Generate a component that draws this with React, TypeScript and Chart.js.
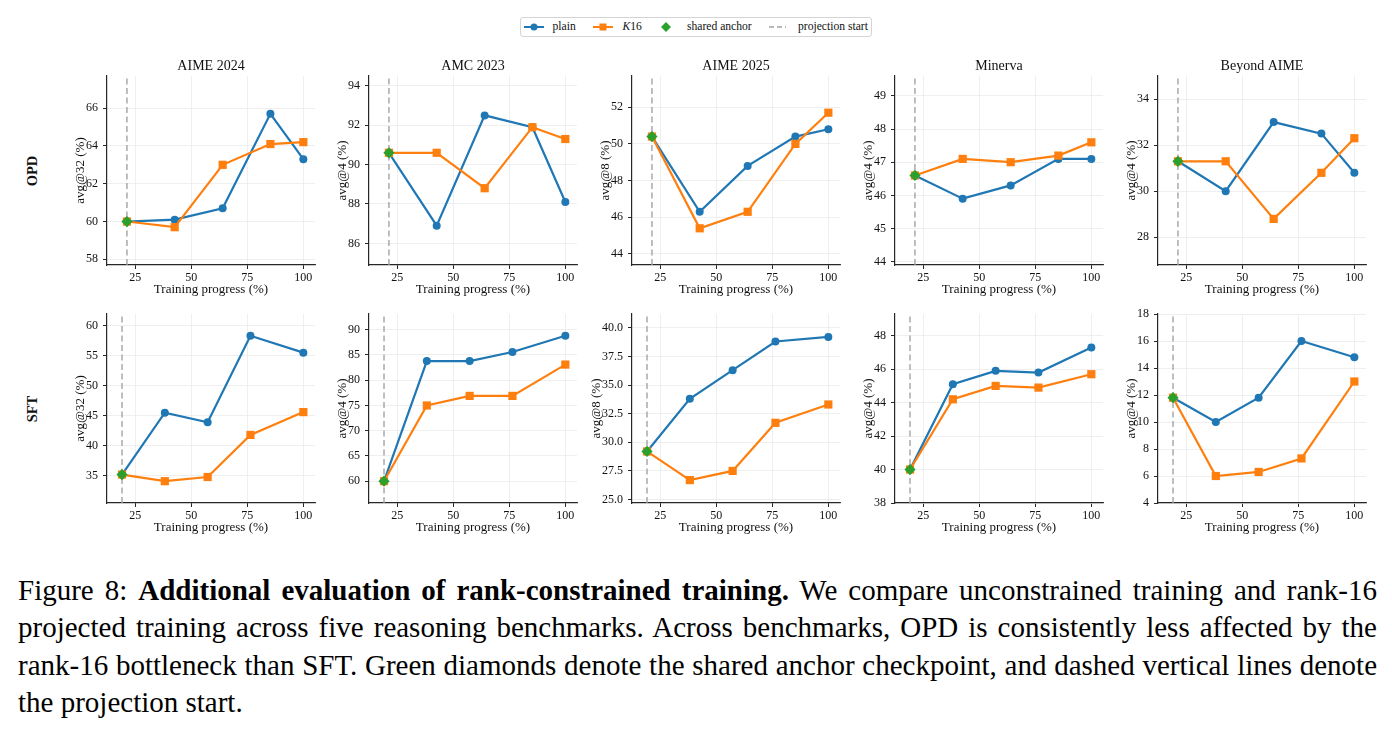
import React, { useEffect, useRef } from "react";
import { Chart, registerables } from "chart.js";

Chart.register(...registerables);

const SERIF = '"Liberation Serif", "Times New Roman", Times, serif';
const BLUE = "#1f77b4";
const ORANGE = "#ff7f0e";
const GREEN = "#2ca02c";
const DASH_GREY = "#a3a3a3";
const GRID = "#ebebeb";
const AXIS = "#262626";
const INK = "#111111";

// Benchmarks (columns) and training methods (rows)
const benchmarks = ["AIME 2024", "AMC 2023", "AIME 2025", "Minerva", "Beyond AIME"];
const metrics = ["avg@32 (%)", "avg@4 (%)", "avg@8 (%)", "avg@4 (%)", "avg@4 (%)"];
const methods = ["OPD", "SFT"];

// Training progress (%) of each evaluated checkpoint; the first is the shared anchor
const opdProgress = [21.3, 42.6, 64.0, 85.3, 100];
const sftProgress = [19.1, 38.2, 57.3, 76.4, 100];
const progressTicks = [25, 50, 75, 100];

// OPD scores
const opdAime24Plain = [60.0, 60.1, 60.7, 65.7, 63.3];
const opdAime24K16 = [60.0, 59.7, 63.0, 64.1, 64.2];
const opdAmc23Plain = [90.6, 86.9, 92.5, 91.9, 88.1];
const opdAmc23K16 = [90.6, 90.6, 88.8, 91.9, 91.3];
const opdAime25Plain = [50.4, 46.3, 48.8, 50.4, 50.8];
const opdAime25K16 = [50.4, 45.4, 46.3, 50.0, 51.7];
const opdMinervaPlain = [46.6, 45.9, 46.3, 47.1, 47.1];
const opdMinervaK16 = [46.6, 47.1, 47.0, 47.2, 47.6];
const opdBeyondPlain = [31.3, 30.0, 33.0, 32.5, 30.8];
const opdBeyondK16 = [31.3, 31.3, 28.8, 30.8, 32.3];

// SFT scores
const sftAime24Plain = [35.2, 45.5, 43.9, 58.3, 55.5];
const sftAime24K16 = [35.2, 34.1, 34.8, 41.8, 45.6];
const sftAmc23Plain = [60.0, 83.8, 83.8, 85.6, 88.8];
const sftAmc23K16 = [60.0, 75.0, 76.9, 76.9, 83.1];
const sftAime25Plain = [29.2, 33.8, 36.3, 38.8, 39.2];
const sftAime25K16 = [29.2, 26.7, 27.5, 31.7, 33.3];
const sftMinervaPlain = [40.0, 45.1, 45.9, 45.8, 47.3];
const sftMinervaK16 = [40.0, 44.2, 45.0, 44.9, 45.7];
const sftBeyondPlain = [11.8, 10.0, 11.8, 16.0, 14.8];
const sftBeyondK16 = [11.8, 6.0, 6.3, 7.3, 13.0];

// Y tick values
const opdAime24Ticks = [58, 60, 62, 64, 66];
const opdAmc23Ticks = [86, 88, 90, 92, 94];
const opdAime25Ticks = [44, 46, 48, 50, 52];
const opdMinervaTicks = [44, 45, 46, 47, 48, 49];
const opdBeyondTicks = [28, 30, 32, 34];
const sftAime24Ticks = [35, 40, 45, 50, 55, 60];
const sftAmc23Ticks = [60, 65, 70, 75, 80, 85, 90];
const sftAime25Ticks = [25, 27.5, 30, 32.5, 35, 37.5, 40];
const sftMinervaTicks = [38, 40, 42, 44, 46, 48];
const sftBeyondTicks = [4, 6, 8, 10, 12, 14, 16, 18];

type Panel = {
  title: string;
  metric: string;
  progress: number[];
  plain: number[];
  k16: number[];
  ticks: number[];
};

const opdPlains = [opdAime24Plain, opdAmc23Plain, opdAime25Plain, opdMinervaPlain, opdBeyondPlain];
const opdK16s = [opdAime24K16, opdAmc23K16, opdAime25K16, opdMinervaK16, opdBeyondK16];
const opdTicks = [opdAime24Ticks, opdAmc23Ticks, opdAime25Ticks, opdMinervaTicks, opdBeyondTicks];
const sftPlains = [sftAime24Plain, sftAmc23Plain, sftAime25Plain, sftMinervaPlain, sftBeyondPlain];
const sftK16s = [sftAime24K16, sftAmc23K16, sftAime25K16, sftMinervaK16, sftBeyondK16];
const sftTicks = [sftAime24Ticks, sftAmc23Ticks, sftAime25Ticks, sftMinervaTicks, sftBeyondTicks];

const rows: Panel[][] = [
  benchmarks.map((b, i) => ({
    title: b,
    metric: metrics[i],
    progress: opdProgress,
    plain: opdPlains[i],
    k16: opdK16s[i],
    ticks: opdTicks[i],
  })),
  benchmarks.map((b, i) => ({
    title: "",
    metric: metrics[i],
    progress: sftProgress,
    plain: sftPlains[i],
    k16: sftK16s[i],
    ticks: sftTicks[i],
  })),
];

// Layout of the panel grid
const PLOT_LEFTS = [107, 369, 632, 895, 1158];
const ROW_TOPS = [76, 314];
const PLOT_W = 208;
const PLOT_H = 189;
const Y_BOX = 60;
const X_BOX = 35;
const TITLE_BOX = 18;
const RIGHT_PAD = 14;
const CANVAS_W = Y_BOX + PLOT_W + RIGHT_PAD;
const CANVAS_H = TITLE_BOX + PLOT_H + X_BOX;
const X_MIN = 12.4;
const X_MAX = 105.2;
const TICK_FONT = 12;

function fmtTick(v: number, ticks: number[]) {
  const dec = ticks.some((t) => !Number.isInteger(t)) ? 1 : 0;
  return Number(v).toFixed(dec);
}

function widestLabel(ticks: number[]) {
  const ctx = document.createElement("canvas").getContext("2d")!;
  ctx.font = `${TICK_FONT}px ${SERIF}`;
  return Math.max(...ticks.map((t) => ctx.measureText(fmtTick(t, ticks)).width));
}

function buildConfig(p: Panel): any {
  const all = [...p.plain, ...p.k16];
  const lo = Math.min(...all);
  const hi = Math.max(...all);
  const margin = Math.max(2, 0.15 * (hi - lo));
  const yMin = lo - margin;
  const yMax = hi + margin;
  const start = p.progress[0];
  const anchor = p.plain[0];
  const yTitlePad = Math.max(0, 37.5 - widestLabel(p.ticks));

  return {
    type: "line",
    data: {
      datasets: [
        {
          label: "plain",
          data: p.progress.map((x, i) => ({ x, y: p.plain[i] })),
          borderColor: BLUE,
          backgroundColor: BLUE,
          borderWidth: 2.2,
          pointStyle: "circle",
          pointRadius: 4,
          pointBorderWidth: 0,
          tension: 0,
          order: 3,
        },
        {
          label: "K16",
          data: p.progress.map((x, i) => ({ x, y: p.k16[i] })),
          borderColor: ORANGE,
          backgroundColor: ORANGE,
          borderWidth: 2.2,
          pointStyle: "rect",
          pointRadius: 5.8,
          pointBorderWidth: 0,
          tension: 0,
          order: 2,
        },
        {
          label: "shared anchor",
          data: [{ x: start, y: anchor }],
          showLine: false,
          borderColor: GREEN,
          backgroundColor: GREEN,
          pointStyle: "rectRot",
          pointRadius: 5.6,
          pointBorderWidth: 0,
          order: 1,
        },
        {
          label: "projection start",
          data: [
            { x: start, y: yMin },
            { x: start, y: yMax },
          ],
          borderColor: DASH_GREY,
          borderWidth: 1.4,
          borderDash: [6, 3.5],
          pointRadius: 0,
          order: 4,
        },
      ],
    },
    options: {
      responsive: false,
      animation: false,
      events: [],
      layout: { padding: { left: 0, right: RIGHT_PAD, top: 0, bottom: 0 } },
      plugins: {
        legend: { display: false },
        tooltip: { enabled: false },
        title: {
          display: true,
          text: p.title,
          fullSize: false,
          color: INK,
          font: { family: SERIF, size: 14, weight: "normal", lineHeight: "17px" },
          padding: { top: 0, bottom: 1 },
        },
      },
      scales: {
        x: {
          type: "linear",
          min: X_MIN,
          max: X_MAX,
          afterBuildTicks: (s: any) => {
            s.ticks = progressTicks.map((v) => ({ value: v }));
          },
          afterFit: (s: any) => {
            s.height = X_BOX;
          },
          grid: { color: GRID, lineWidth: 0.8, tickLength: 4, tickColor: AXIS, tickWidth: 1 },
          border: { color: AXIS, width: 1.2 },
          ticks: {
            color: INK,
            font: { family: SERIF, size: TICK_FONT },
            padding: 2,
            maxRotation: 0,
            autoSkip: false,
            callback: (v: number) => String(v),
          },
          title: {
            display: true,
            text: "Training progress (%)",
            color: INK,
            font: { family: SERIF, size: 13 },
            padding: { top: 0, bottom: 2.2 },
          },
        },
        y: {
          type: "linear",
          min: yMin,
          max: yMax,
          afterBuildTicks: (s: any) => {
            s.ticks = p.ticks.map((v) => ({ value: v }));
          },
          afterFit: (s: any) => {
            s.width = Y_BOX;
          },
          grid: { color: GRID, lineWidth: 0.8, tickLength: 4, tickColor: AXIS, tickWidth: 1 },
          border: { color: AXIS, width: 1.2 },
          ticks: {
            color: INK,
            font: { family: SERIF, size: TICK_FONT },
            padding: 5,
            autoSkip: false,
            callback: (v: number) => fmtTick(v, p.ticks),
          },
          title: {
            display: true,
            text: p.metric,
            color: INK,
            font: { family: SERIF, size: 13 },
            padding: { top: yTitlePad, bottom: 0 },
          },
        },
      },
    },
  };
}

function PanelChart({ panel, left, top }: { panel: Panel; left: number; top: number }) {
  const ref = useRef<HTMLCanvasElement>(null);
  useEffect(() => {
    const chart = new Chart(ref.current!, buildConfig(panel));
    return () => chart.destroy();
  }, [panel]);
  return (
    <canvas
      ref={ref}
      width={CANVAS_W}
      height={CANVAS_H}
      style={{ position: "absolute", left, top, width: CANVAS_W, height: CANVAS_H }}
    />
  );
}

function Handle({ kind }: { kind: string }) {
  return (
    <svg width={20} height={10} viewBox="0 0 20 10" style={{ display: "block" }}>
      {kind === "plain" && (
        <>
          <line x1={0} y1={5} x2={20} y2={5} stroke={BLUE} strokeWidth={2} />
          <circle cx={10} cy={5} r={3.5} fill={BLUE} />
        </>
      )}
      {kind === "k16" && (
        <>
          <line x1={0} y1={5} x2={20} y2={5} stroke={ORANGE} strokeWidth={2} />
          <rect x={6.5} y={1.5} width={7} height={7} fill={ORANGE} />
        </>
      )}
      {kind === "anchor" && <polygon points="10,0 15,5 10,10 5,5" fill={GREEN} />}
      {kind === "proj" && (
        <line x1={0} y1={5} x2={17} y2={5} stroke={DASH_GREY} strokeWidth={1.4} strokeDasharray="5 3" />
      )}
    </svg>
  );
}

const legendItems = [
  { kind: "plain", hx: 3, tx: 31.5, text: <>plain</> },
  { kind: "k16", hx: 71.5, tx: 101.5, text: <><i>K</i>16</> },
  { kind: "anchor", hx: 135, tx: 166, text: <>shared anchor</> },
  { kind: "proj", hx: 248, tx: 277, text: <>projection start</> },
];

function Legend() {
  return (
    <div
      style={{
        position: "absolute",
        left: 520,
        top: 17,
        width: 352,
        height: 20,
        boxSizing: "border-box",
        border: "1px solid #d4d4d4",
        borderRadius: 3,
        background: "#fff",
        fontFamily: SERIF,
        fontSize: 11.6,
        color: INK,
      }}
    >
      {legendItems.map((it) => (
        <React.Fragment key={it.kind}>
          <div style={{ position: "absolute", left: it.hx, top: 4 }}>
            <Handle kind={it.kind} />
          </div>
          <div
            style={{
              position: "absolute",
              left: it.tx,
              top: 0,
              height: 18,
              lineHeight: "18px",
              whiteSpace: "nowrap",
            }}
          >
            {it.text}
          </div>
        </React.Fragment>
      ))}
    </div>
  );
}

function RowLabel({ text, cy }: { text: string; cy: number }) {
  return (
    <div
      style={{
        position: "absolute",
        left: 32,
        top: cy,
        transform: "translate(-50%, -50%) rotate(-90deg)",
        fontFamily: SERIF,
        fontWeight: "bold",
        fontSize: 14.5,
        color: INK,
        whiteSpace: "nowrap",
        lineHeight: "18px",
      }}
    >
      {text}
    </div>
  );
}

const captionLine: React.CSSProperties = {
  textAlign: "justify",
  textAlignLast: "justify",
};

export default function App() {
  return (
    <div
      style={{
        position: "absolute",
        left: 0,
        top: 0,
        width: 1392,
        height: 731,
        background: "#fff",
        overflow: "hidden",
      }}
    >
      <Legend />
      {methods.map((m, r) => (
        <RowLabel key={m} text={m} cy={ROW_TOPS[r] + PLOT_H / 2} />
      ))}
      {rows.map((row, r) =>
        row.map((panel, c) => (
          <PanelChart
            key={`${r}-${c}`}
            panel={panel}
            left={PLOT_LEFTS[c] - Y_BOX}
            top={ROW_TOPS[r] - TITLE_BOX}
          />
        ))
      )}
      <div
        style={{
          position: "absolute",
          left: 18,
          top: 572,
          width: 1359,
          fontFamily: SERIF,
          fontSize: 29,
          lineHeight: "37.3px",
          color: "#000",
        }}
      >
        <div style={captionLine}>
          Figure 8: <b>Additional evaluation of rank-constrained training.</b> We compare unconstrained training and rank-16
        </div>
        <div style={captionLine}>
          projected training across five reasoning benchmarks. Across benchmarks, OPD is consistently less affected by the
        </div>
        <div style={captionLine}>
          rank-16 bottleneck than SFT. Green diamonds denote the shared anchor checkpoint, and dashed vertical lines denote
        </div>
        <div>the projection start.</div>
      </div>
    </div>
  );
}
